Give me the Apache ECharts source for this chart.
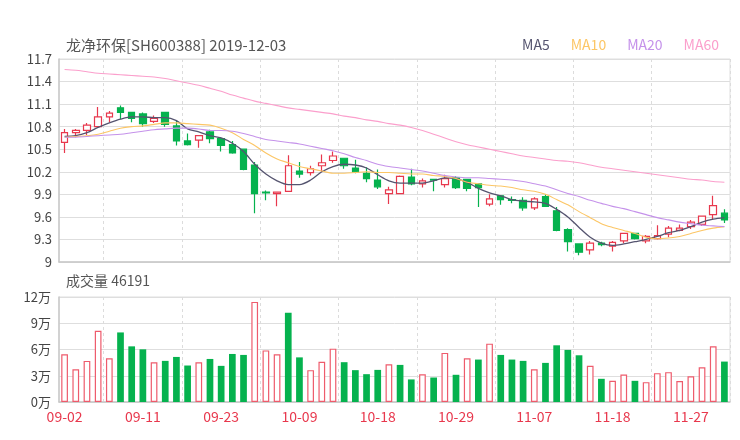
<!DOCTYPE html>
<html>
<head>
<meta charset="utf-8">
<script src="https://cdn.jsdelivr.net/npm/echarts@6/dist/echarts.min.js"></script>
<style>html,body{margin:0;padding:0;background:#fff}#c{width:740px;height:440px}</style>
</head>
<body>
<div id="c"></div>
<script>
const titleText = '龙净环保[SH600388] 2019-12-03';
const dates = ['09-02','09-03','09-04','09-05','09-06','09-09','09-10','09-11','09-12','09-16','09-17','09-18','09-19','09-20','09-23','09-24','09-25','09-26','09-27','09-30',
'10-08','10-09','10-10','10-11','10-14','10-15','10-16','10-17','10-18','10-21','10-22','10-23','10-24','10-25','10-28','10-29','10-30','10-31',
'11-01','11-04','11-05','11-06','11-07','11-08','11-11','11-12','11-13','11-14','11-15','11-18','11-19','11-20','11-21','11-22','11-25','11-26','11-27','11-28','11-29','12-02'];
const opens  = [10.59,10.72,10.75,10.80,10.93,11.05,10.99,10.97,10.87,10.99,10.81,10.61,10.62,10.73,10.64,10.56,10.50,10.29,9.93,9.91,9.94,10.21,10.19,10.28,10.35,10.38,10.25,10.18,10.09,9.91,9.91,10.13,10.04,10.10,10.03,10.12,10.10,10.04,9.77,9.88,9.83,9.82,9.72,9.87,9.68,9.43,9.24,9.16,9.25,9.21,9.28,9.38,9.28,9.31,9.37,9.42,9.47,9.50,9.63,9.65];
const closes = [10.72,10.75,10.82,10.93,10.98,10.99,10.91,10.84,10.91,10.83,10.61,10.56,10.68,10.64,10.55,10.45,10.23,9.91,9.92,9.93,10.28,10.17,10.24,10.32,10.41,10.28,10.20,10.11,10.00,9.96,10.14,10.04,10.08,10.09,10.11,9.99,9.98,9.99,9.84,9.83,9.82,9.72,9.84,9.74,9.42,9.27,9.13,9.25,9.23,9.26,9.38,9.31,9.34,9.35,9.45,9.45,9.53,9.61,9.75,9.56];
const highs  = [10.77,10.77,10.85,11.06,11.01,11.08,11.00,10.99,10.95,10.99,10.88,10.71,10.68,10.76,10.66,10.61,10.50,10.33,9.95,9.93,10.42,10.33,10.28,10.43,10.47,10.38,10.36,10.26,10.23,10.00,10.15,10.24,10.11,10.10,10.16,10.14,10.10,10.04,9.90,9.88,9.87,9.86,9.86,9.90,9.73,9.45,9.24,9.28,9.27,9.28,9.38,9.39,9.36,9.49,9.48,9.50,9.56,9.62,9.88,9.70];
const lows   = [10.45,10.66,10.69,10.80,10.86,10.90,10.86,10.80,10.85,10.80,10.55,10.55,10.52,10.58,10.47,10.44,10.22,9.65,9.82,9.74,9.93,10.12,10.15,10.20,10.32,10.24,10.18,10.06,9.97,9.77,9.90,10.02,9.99,9.94,9.99,9.97,9.94,9.73,9.74,9.76,9.78,9.68,9.69,9.73,9.41,9.14,9.09,9.10,9.21,9.14,9.25,9.30,9.25,9.30,9.33,9.41,9.44,9.48,9.56,9.52];
const ma5  = [10.67,10.68,10.72,10.79,10.85,10.90,10.93,10.93,10.92,10.92,10.88,10.77,10.73,10.68,10.65,10.58,10.47,10.30,10.17,10.08,10.03,10.03,10.09,10.20,10.27,10.30,10.29,10.25,10.16,10.08,10.05,10.05,10.05,10.08,10.12,10.11,10.06,9.98,9.92,9.88,9.83,9.81,9.80,9.78,9.70,9.60,9.46,9.33,9.25,9.22,9.24,9.27,9.30,9.34,9.39,9.42,9.47,9.53,9.57,9.59];
const ma10 = [10.66,10.67,10.68,10.70,10.74,10.78,10.80,10.81,10.83,10.85,10.85,10.84,10.83,10.82,10.78,10.72,10.63,10.55,10.45,10.37,10.32,10.27,10.24,10.21,10.18,10.18,10.19,10.20,10.19,10.19,10.18,10.17,10.17,10.15,10.14,10.11,10.06,10.04,10.02,10.01,9.99,9.96,9.94,9.90,9.83,9.76,9.67,9.59,9.51,9.46,9.42,9.38,9.33,9.31,9.32,9.34,9.38,9.42,9.45,9.47];
const ma20 = [10.66,10.66,10.67,10.68,10.69,10.70,10.72,10.74,10.76,10.77,10.78,10.78,10.77,10.75,10.75,10.74,10.71,10.67,10.63,10.61,10.59,10.57,10.54,10.51,10.48,10.44,10.39,10.35,10.30,10.27,10.25,10.23,10.21,10.18,10.15,10.13,10.12,10.12,10.11,10.10,10.09,10.07,10.04,10.01,9.96,9.91,9.87,9.82,9.78,9.74,9.71,9.67,9.63,9.59,9.56,9.53,9.51,9.49,9.48,9.47];
const ma60 = [11.56,11.55,11.53,11.51,11.50,11.49,11.48,11.47,11.46,11.44,11.41,11.38,11.35,11.31,11.27,11.22,11.18,11.14,11.11,11.08,11.05,11.03,11.01,10.99,10.97,10.94,10.92,10.89,10.87,10.84,10.82,10.79,10.75,10.70,10.65,10.60,10.56,10.53,10.50,10.47,10.44,10.41,10.39,10.37,10.35,10.34,10.32,10.29,10.26,10.24,10.22,10.20,10.18,10.16,10.14,10.12,10.10,10.09,10.07,10.06];
const volumes = [54500,37500,47000,81400,50000,79500,63600,60200,45500,47000,51500,41700,45500,49200,41300,54900,53800,114400,59000,54500,102000,51000,36400,46000,61000,45500,36400,31800,36700,43200,42400,25800,31800,28000,56100,31100,50000,48500,66700,53800,48500,47000,37500,44700,64800,59500,53400,41300,26500,24200,31400,24200,22700,33000,34100,23900,29500,39800,63600,46191];
const volumeUp = [1,1,1,1,1,0,0,0,1,0,0,0,1,0,0,0,0,1,1,1,0,0,1,1,1,0,0,0,0,1,0,0,1,0,1,0,1,0,1,0,0,0,1,0,0,0,0,1,0,1,1,0,1,1,1,1,1,1,1,0];
const priceTicks = {min: 9, max: 11.7, interval: 0.3};
const volTicks = {min: 0, max: 120000, interval: 30000};
const maNames = ['MA5','MA10','MA20','MA60'];

const RED = '#e8384d', GREEN = '#05b24e';
const maColors = ['#55546f','#fcc665','#c592ea','#fb9fcc'];
const font = "'Noto Sans CJK SC', 'Noto Sans', sans-serif";
const maData = [ma5, ma10, ma20, ma60];

const chart = echarts.init(document.getElementById('c'), null, {renderer: 'canvas'});
const splitV = {show: true, interval: (i) => i % 7 === 4, lineStyle: {color: '#dcdcdc', type: [3, 3]}};
chart.setOption({
  animation: false,
  textStyle: {fontFamily: font},
  title: [
    {text: titleText, left: 66, top: 38, padding: 0, textStyle: {fontSize: 15, fontWeight: 'normal', color: '#555', fontFamily: font}},
    {text: '成交量 ' + volumes[volumes.length - 1], left: 66, top: 274, padding: 0, textStyle: {fontSize: 14, fontWeight: 'normal', color: '#555', fontFamily: font}}
  ],
  legend: {
    right: 21, top: 38, padding: 0, itemWidth: 0, itemHeight: 0, itemGap: 16, icon: 'none',
    data: maNames.map((n, k) => ({name: n, textStyle: {color: maColors[k], fontSize: 14, fontFamily: font}}))
  },
  grid: [
    {left: 59, right: 10, top: 59, height: 203, show: true, borderColor: '#dedede', borderWidth: 1},
    {left: 59, right: 10, top: 297, height: 105, show: true, borderColor: '#dedede', borderWidth: 1}
  ],
  xAxis: [
    {type: 'category', gridIndex: 0, data: dates, boundaryGap: true,
     axisLine: {show: true, lineStyle: {color: '#c8c8c8', width: 1.5}}, axisTick: {show: false}, axisLabel: {show: false}, splitLine: splitV},
    {type: 'category', gridIndex: 1, data: dates, boundaryGap: true,
     axisLine: {show: true, lineStyle: {color: '#c8c8c8', width: 1.5}}, axisTick: {show: false},
     axisLabel: {interval: 6, color: RED, fontSize: 14, margin: 8, fontFamily: font}, splitLine: splitV}
  ],
  yAxis: [
    {type: 'value', gridIndex: 0, min: priceTicks.min, max: priceTicks.max, interval: priceTicks.interval, scale: true,
     axisLine: {show: true, lineStyle: {color: '#c8c8c8', width: 1.5}}, axisTick: {show: false},
     axisLabel: {color: '#444', fontSize: 13, margin: 7, fontFamily: font},
     splitLine: {lineStyle: {color: '#dedede'}}},
    {type: 'value', gridIndex: 1, min: volTicks.min, max: volTicks.max, interval: volTicks.interval,
     axisLine: {show: true, lineStyle: {color: '#c8c8c8', width: 1.5}}, axisTick: {show: false},
     axisLabel: {color: '#444', fontSize: 13, margin: 8, fontFamily: font, formatter: (v) => (v / 10000) + '万'},
     splitLine: {lineStyle: {color: '#dedede'}}}
  ],
  series: [
    {type: 'candlestick', xAxisIndex: 0, yAxisIndex: 0, barWidth: 7,
     data: dates.map((d, i) => [opens[i], closes[i], lows[i], highs[i]]),
     itemStyle: {color: '#fff', color0: GREEN, borderColor: RED, borderColor0: GREEN, borderWidth: 1.2}},
    ...maNames.map((n, k) => ({
      name: n, type: 'line', xAxisIndex: 0, yAxisIndex: 0, data: maData[k], smooth: 0.3,
      symbol: 'none', lineStyle: {color: maColors[k], width: k === 0 ? 1.3 : 1.1}, itemStyle: {color: maColors[k]}
    })),
    {type: 'bar', xAxisIndex: 1, yAxisIndex: 1, barWidth: '60%',
     data: volumes.map((v, i) => ({value: v, itemStyle: volumeUp[i]
       ? {color: '#fff', borderColor: '#ee5b6c', borderWidth: 1.2}
       : {color: GREEN}}))}
  ]
});
</script>
</body>
</html>
